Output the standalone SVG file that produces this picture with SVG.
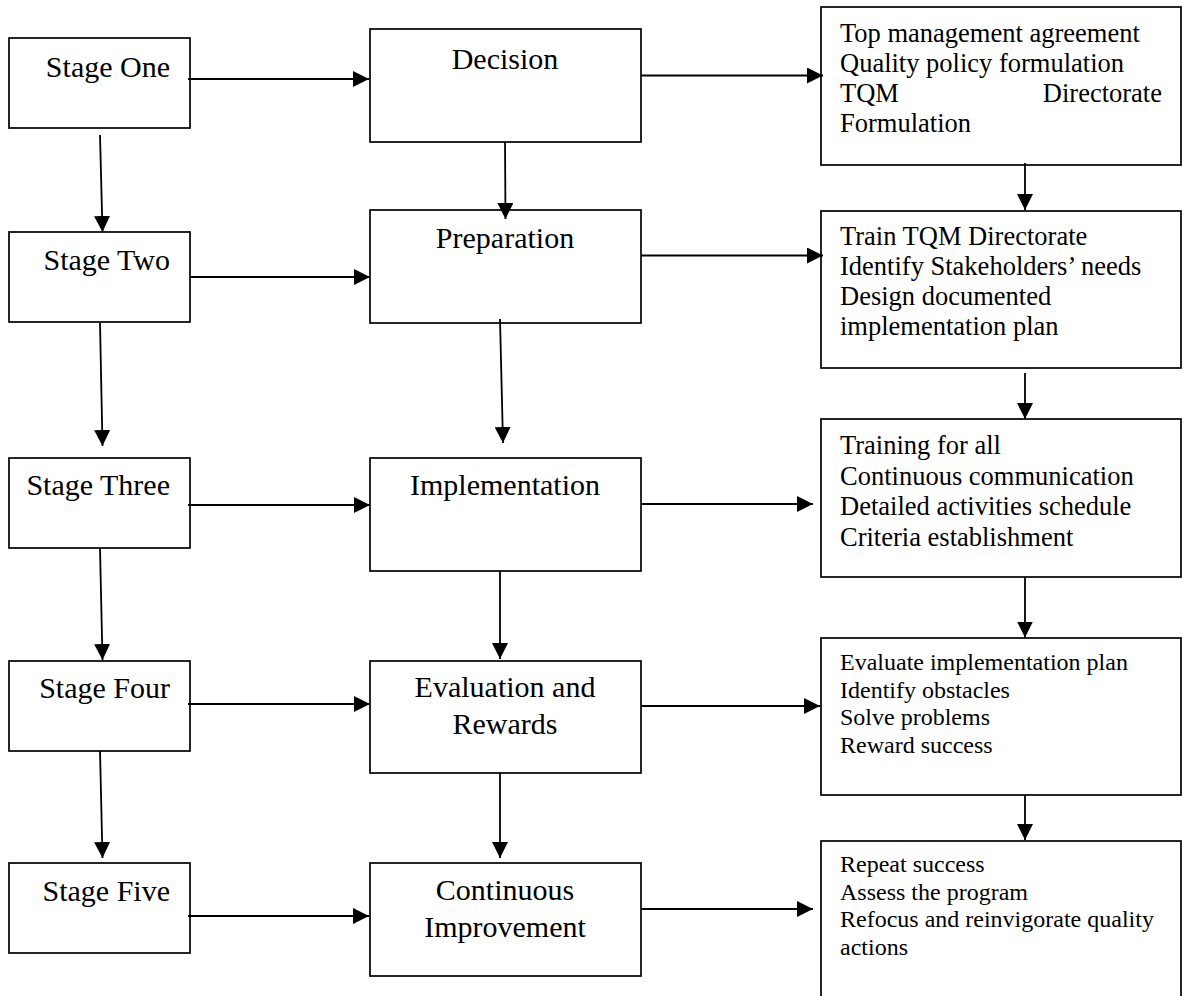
<svg xmlns="http://www.w3.org/2000/svg" width="1185" height="996" viewBox="0 0 1185 996">
  <style>
    .box { fill: #ffffff; stroke: #000000; stroke-width: 1.7; }
    .lbl { font-family: "Liberation Serif", "Times New Roman", serif; font-size: 30px; fill: #000000; }
    .mid { text-anchor: middle; }
    .stage { text-anchor: end; }
    .note { font-family: "Liberation Serif", "Times New Roman", serif; font-size: 26.5px; fill: #000000; }
    .note-s { font-family: "Liberation Serif", "Times New Roman", serif; font-size: 24px; fill: #000000; }
    .wire { fill: none; stroke: #000000; stroke-width: 1.8; marker-end: url(#head); }
  </style>
  <defs>
    <marker id="head" markerUnits="userSpaceOnUse" markerWidth="16" markerHeight="16" refX="15" refY="7.5" orient="auto" viewBox="0 0 15 15">
      <path d="M0,0 L15,7.5 L0,15 Z" fill="#000000"/>
    </marker>
  </defs>
  <rect width="1185" height="996" fill="#ffffff"/>

  <!-- stage column -->
  <g id="stage-one">
    <rect class="box" x="9" y="38" width="181" height="90"/>
    <text class="lbl stage" x="170" y="77">Stage One</text>
  </g>
  <g id="stage-two">
    <rect class="box" x="9" y="232" width="181" height="90"/>
    <text class="lbl stage" x="170" y="270">Stage Two</text>
  </g>
  <g id="stage-three">
    <rect class="box" x="9" y="458" width="181" height="90"/>
    <text class="lbl stage" x="170" y="495">Stage Three</text>
  </g>
  <g id="stage-four">
    <rect class="box" x="9" y="661" width="181" height="90"/>
    <text class="lbl stage" x="170" y="698">Stage Four</text>
  </g>
  <g id="stage-five">
    <rect class="box" x="9" y="863" width="181" height="90"/>
    <text class="lbl stage" x="170" y="901">Stage Five</text>
  </g>

  <!-- phase column -->
  <g id="decision">
    <rect class="box" x="370" y="29" width="271" height="113"/>
    <text class="lbl mid" x="505" y="69">Decision</text>
  </g>
  <g id="preparation">
    <rect class="box" x="370" y="210" width="271" height="113"/>
    <text class="lbl mid" x="505" y="248">Preparation</text>
  </g>
  <g id="implementation">
    <rect class="box" x="370" y="458" width="271" height="113"/>
    <text class="lbl mid" x="505" y="495">Implementation</text>
  </g>
  <g id="evaluation">
    <rect class="box" x="370" y="661" width="271" height="112"/>
    <text class="lbl mid" x="505" y="697">Evaluation and</text>
    <text class="lbl mid" x="505" y="734">Rewards</text>
  </g>
  <g id="improvement">
    <rect class="box" x="370" y="863" width="271" height="113"/>
    <text class="lbl mid" x="505" y="900">Continuous</text>
    <text class="lbl mid" x="505" y="937">Improvement</text>
  </g>

  <!-- activity column -->
  <g id="decision-tasks">
    <rect class="box" x="821" y="7" width="360" height="158"/>
    <text class="note" x="840" y="42">Top management agreement</text>
    <text class="note" x="840" y="72">Quality policy formulation</text>
    <text class="note" x="840" y="102">TQM</text>
    <text class="note" x="1162" y="102" text-anchor="end">Directorate</text>
    <text class="note" x="840" y="132">Formulation</text>
  </g>
  <g id="preparation-tasks">
    <rect class="box" x="821" y="211" width="360" height="157"/>
    <text class="note" x="840" y="245">Train TQM Directorate</text>
    <text class="note" x="840" y="275">Identify Stakeholders’ needs</text>
    <text class="note" x="840" y="305">Design documented</text>
    <text class="note" x="840" y="335">implementation plan</text>
  </g>
  <g id="implementation-tasks">
    <rect class="box" x="821" y="419" width="360" height="158"/>
    <text class="note" x="840" y="454">Training for all</text>
    <text class="note" x="840" y="484.5">Continuous communication</text>
    <text class="note" x="840" y="515">Detailed activities schedule</text>
    <text class="note" x="840" y="545.5">Criteria establishment</text>
  </g>
  <g id="evaluation-tasks">
    <rect class="box" x="821" y="638" width="360" height="157"/>
    <text class="note-s" x="840" y="670">Evaluate implementation plan</text>
    <text class="note-s" x="840" y="697.5">Identify obstacles</text>
    <text class="note-s" x="840" y="725">Solve problems</text>
    <text class="note-s" x="840" y="752.5">Reward success</text>
  </g>
  <g id="improvement-tasks">
    <rect class="box" x="821" y="841" width="360" height="200"/>
    <text class="note-s" x="840" y="871.5">Repeat success</text>
    <text class="note-s" x="840" y="899.5">Assess the program</text>
    <text class="note-s" x="840" y="927">Refocus and reinvigorate quality</text>
    <text class="note-s" x="840" y="955">actions</text>
  </g>

  <!-- connectors -->
  <g id="connectors">
    <!-- stage to phase -->
    <line class="wire" x1="188" y1="79" x2="369" y2="79"/>
    <line class="wire" x1="190" y1="277" x2="370" y2="277"/>
    <line class="wire" x1="188" y1="505" x2="370" y2="505"/>
    <line class="wire" x1="188" y1="704" x2="370" y2="704"/>
    <line class="wire" x1="188" y1="916" x2="369" y2="916"/>
    <!-- phase to activities -->
    <line class="wire" x1="641" y1="75.5" x2="823" y2="75.5"/>
    <line class="wire" x1="641" y1="255.5" x2="823" y2="255.5"/>
    <line class="wire" x1="641" y1="504" x2="813" y2="504"/>
    <line class="wire" x1="641" y1="706" x2="820" y2="706"/>
    <line class="wire" x1="641" y1="909" x2="813" y2="909"/>
    <!-- stage column, downward -->
    <line class="wire" x1="100" y1="135" x2="102.5" y2="232"/>
    <line class="wire" x1="100" y1="323" x2="102.5" y2="446"/>
    <line class="wire" x1="100" y1="548" x2="102.5" y2="660"/>
    <line class="wire" x1="100" y1="751" x2="102.5" y2="858"/>
    <!-- phase column, downward -->
    <line class="wire" x1="505" y1="142" x2="505.5" y2="219"/>
    <line class="wire" x1="500" y1="319" x2="503" y2="443"/>
    <line class="wire" x1="500" y1="571" x2="500" y2="659"/>
    <line class="wire" x1="500" y1="773" x2="500" y2="858"/>
    <!-- activity column, downward -->
    <line class="wire" x1="1025" y1="163" x2="1025" y2="210"/>
    <line class="wire" x1="1025" y1="373" x2="1025" y2="419"/>
    <line class="wire" x1="1025" y1="577" x2="1025" y2="637.5"/>
    <line class="wire" x1="1025" y1="795" x2="1025" y2="840"/>
  </g>
</svg>
